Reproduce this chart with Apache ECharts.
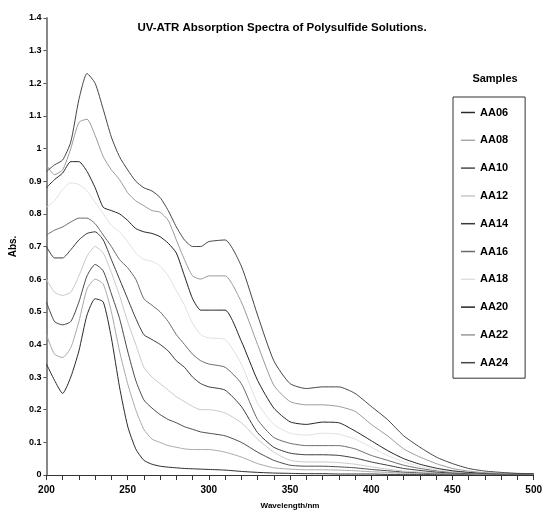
<!DOCTYPE html>
<html>
<head>
<meta charset="utf-8">
<script src="https://cdn.jsdelivr.net/npm/echarts@6/dist/echarts.min.js"></script>
<style>
  html, body { margin: 0; padding: 0; background: #fff; }
  #chart { width: 545px; height: 521px; }
</style>
</head>
<body>
<div id="chart"></div>
<script>
// wavelength grid (nm)
var wavelengths = [200,205,210,215,220,225,230,235,240,245,250,255,260,265,270,275,280,285,290,295,300,
                   310,320,330,340,350,360,370,380,390,400,410,420,430,440,450,460,470,480,490,500];

var sampleNames = ['AA06','AA08','AA10','AA12','AA14','AA16','AA18','AA20','AA22','AA24'];
var sampleColors = ['#2a2a2a','#a8a8a8','#4a4a4a','#c8c8c8','#3a3a3a','#6a6a6a','#e0e0e0','#222222','#999999','#444444'];

// absorbance values
var aa06 = [0.34,0.29,0.25,0.30,0.38,0.49,0.54,0.53,0.42,0.27,0.15,0.08,0.045,0.033,0.027,0.024,0.022,0.02,0.019,0.018,0.017,
            0.015,0.011,0.008,0.006,0.005,0.004,0.004,0.003,0.003,0.003,0.002,0.002,0.002,0.002,0.001,0.001,0.001,0.001,0.001,0.001];
var aa08 = [0.43,0.37,0.36,0.39,0.47,0.57,0.60,0.585,0.50,0.38,0.28,0.20,0.14,0.11,0.10,0.09,0.085,0.08,0.078,0.078,0.078,
            0.07,0.055,0.035,0.022,0.018,0.016,0.016,0.015,0.013,0.01,0.008,0.006,0.005,0.004,0.003,0.003,0.002,0.002,0.002,0.002];
var aa10 = [0.53,0.47,0.46,0.47,0.53,0.61,0.645,0.625,0.555,0.48,0.38,0.29,0.23,0.205,0.185,0.17,0.16,0.148,0.14,0.132,0.128,
            0.12,0.10,0.07,0.045,0.03,0.027,0.027,0.025,0.022,0.017,0.013,0.009,0.007,0.005,0.004,0.003,0.003,0.002,0.002,0.002];
var aa12 = [0.60,0.56,0.55,0.56,0.61,0.67,0.70,0.68,0.62,0.55,0.47,0.40,0.33,0.30,0.28,0.26,0.24,0.225,0.21,0.20,0.20,
            0.19,0.16,0.11,0.07,0.045,0.04,0.04,0.038,0.033,0.025,0.018,0.012,0.009,0.006,0.005,0.004,0.003,0.003,0.002,0.002];
var aa14 = [0.70,0.665,0.665,0.69,0.72,0.74,0.745,0.72,0.66,0.60,0.54,0.48,0.43,0.415,0.40,0.38,0.35,0.33,0.30,0.28,0.27,
            0.26,0.21,0.13,0.085,0.067,0.062,0.062,0.06,0.052,0.04,0.03,0.02,0.014,0.009,0.006,0.005,0.004,0.003,0.003,0.002];
var aa16 = [0.735,0.75,0.76,0.775,0.787,0.787,0.77,0.735,0.70,0.66,0.635,0.60,0.54,0.52,0.50,0.47,0.43,0.40,0.37,0.35,0.34,
            0.33,0.28,0.17,0.115,0.097,0.09,0.09,0.09,0.08,0.06,0.045,0.03,0.02,0.013,0.009,0.006,0.005,0.004,0.003,0.003];
var aa18 = [0.82,0.84,0.875,0.895,0.89,0.87,0.835,0.80,0.765,0.745,0.715,0.68,0.66,0.655,0.64,0.61,0.565,0.52,0.465,0.43,0.42,
            0.415,0.34,0.22,0.155,0.128,0.122,0.128,0.125,0.11,0.085,0.06,0.04,0.026,0.016,0.01,0.007,0.005,0.004,0.003,0.003];
var aa20 = [0.88,0.905,0.925,0.96,0.96,0.93,0.88,0.82,0.81,0.80,0.78,0.755,0.745,0.74,0.73,0.71,0.68,0.61,0.54,0.505,0.505,
            0.505,0.41,0.29,0.205,0.163,0.155,0.162,0.16,0.135,0.105,0.075,0.05,0.033,0.021,0.013,0.008,0.005,0.004,0.003,0.003];
var aa22 = [0.95,0.92,0.935,1.0,1.08,1.09,1.04,0.975,0.935,0.905,0.865,0.84,0.825,0.81,0.805,0.78,0.72,0.66,0.61,0.60,0.61,
            0.61,0.53,0.40,0.275,0.225,0.215,0.215,0.21,0.195,0.155,0.12,0.08,0.055,0.035,0.02,0.012,0.007,0.005,0.004,0.003];
var aa24 = [0.93,0.95,0.965,1.02,1.15,1.23,1.20,1.12,1.035,0.975,0.935,0.90,0.88,0.87,0.85,0.81,0.76,0.72,0.70,0.70,0.715,
            0.72,0.64,0.49,0.35,0.28,0.265,0.27,0.27,0.25,0.21,0.17,0.12,0.085,0.055,0.035,0.02,0.012,0.008,0.005,0.004];

var sampleValues = [aa06, aa08, aa10, aa12, aa14, aa16, aa18, aa20, aa22, aa24];

var font = 'Liberation Sans';

var series = sampleNames.map(function (name, i) {
    return {
        name: name,
        type: 'line',
        symbol: 'none',
        smooth: 0.2,
        lineStyle: { color: sampleColors[i], width: 1 },
        itemStyle: { color: sampleColors[i] },
        data: wavelengths.map(function (w, j) { return [w, sampleValues[i][j]]; })
    };
});

var option = {
    backgroundColor: '#fff',
    animation: false,
    title: [
        {
            text: 'UV-ATR Absorption Spectra of Polysulfide Solutions.',
            left: 277, top: 17, textAlign: 'center',
            textStyle: { fontFamily: font, fontSize: 11.5, fontWeight: 'bold', color: '#000' }
        },
        {
            text: 'Samples',
            left: 490, top: 68, textAlign: 'center',
            textStyle: { fontFamily: font, fontSize: 11, fontWeight: 'bold', color: '#000' }
        }
    ],
    legend: {
        orient: 'vertical',
        left: 453,
        top: 97,
        width: 60,
        padding: [10, 17, 10, 8],
        itemGap: 16.8,
        icon: 'rect',
        itemWidth: 14,
        itemHeight: 1.5,
        borderColor: '#333',
        borderWidth: 1,
        textStyle: { fontFamily: font, fontSize: 11, fontWeight: 'bold', color: '#000' },
        data: sampleNames
    },
    grid: { left: 43, right: 7, top: 18, bottom: 46 },
    xAxis: {
        type: 'value',
        min: 200, max: 500, interval: 50,
        name: 'Wavelength/nm',
        nameLocation: 'middle',
        nameGap: 27,
        nameTextStyle: { fontFamily: font, fontSize: 8, fontWeight: 'bold', color: '#000' },
        axisLine: { lineStyle: { color: '#333', width: 1 } },
        axisTick: { inside: false, length: 5, lineStyle: { color: '#333' } },
        minorTick: { show: true, splitNumber: 5, length: 5, lineStyle: { color: '#333' } },
        axisLabel: { fontFamily: font, fontSize: 10, fontWeight: 'bold', color: '#000', margin: 10 },
        splitLine: { show: false }
    },
    yAxis: {
        type: 'value',
        min: 0, max: 1.4, interval: 0.1,
        name: 'Abs.',
        nameLocation: 'middle',
        nameGap: 24,
        nameTextStyle: { fontFamily: font, fontSize: 10, fontWeight: 'bold', color: '#000' },
        axisLine: { show: true, lineStyle: { color: '#888', width: 2 } },
        axisTick: { show: true, length: 3, lineStyle: { color: '#555' } },
        axisLabel: {
            fontFamily: font, fontSize: 9, fontWeight: 'bold', color: '#000', margin: 5,
            formatter: function (v) { return String(Math.round(v * 10) / 10); }
        },
        splitLine: { show: false }
    },
    series: series
};

var chart = echarts.init(document.getElementById('chart'));
chart.setOption(option);
</script>
</body>
</html>
